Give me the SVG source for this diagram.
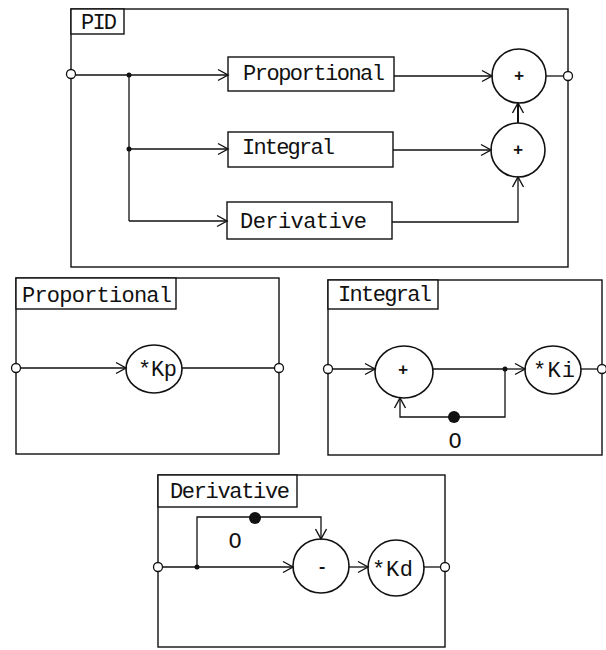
<svg xmlns="http://www.w3.org/2000/svg" width="606" height="650" viewBox="0 0 606 650">
<style>
.box{fill:none;stroke:#111;stroke-width:1.4}
.lbl{fill:#fff;stroke:#111;stroke-width:1.4}
.blk{fill:#fff;stroke:#111;stroke-width:1.4}
.sum{fill:#fff;stroke:#111;stroke-width:1.6}
.ln{fill:none;stroke:#111;stroke-width:1.3}
.arr{fill:none;stroke:#111;stroke-width:1.3;marker-end:url(#ah)}
.term{fill:#fff;stroke:#111;stroke-width:1.3}
.jn{fill:#111}
.dly{fill:#111}
text{font-family:"Liberation Mono","Courier New",monospace;fill:#111;font-size:22px}
.sym{font-size:17px;text-anchor:middle;font-weight:bold}
</style>
<defs>
<marker id="ah" markerUnits="userSpaceOnUse" markerWidth="14" markerHeight="14" refX="11" refY="7" orient="auto" overflow="visible">
<path d="M1,1.5 L11,7 L1,12.5" fill="none" stroke="#111" stroke-width="1.4"/>
</marker>
</defs>

<!-- ===== PID ===== -->
<g id="pid-frame">
<rect class="box" x="71" y="9" width="497" height="258"/>
<rect class="lbl" x="71" y="9" width="53" height="25"/>
<text x="81" y="29" textLength="36" font-size="20">PID</text>
</g>
<g id="pid-proportional">
<rect class="blk" x="228" y="57" width="166" height="34"/>
<text x="243" y="80" textLength="142">Proportional</text>
</g>
<g id="pid-integral">
<rect class="blk" x="228" y="132" width="165" height="35"/>
<text x="242" y="154" textLength="93">Integral</text>
</g>
<g id="pid-derivative">
<rect class="blk" x="227" y="202" width="165" height="37"/>
<text x="240" y="228" textLength="127">Derivative</text>
</g>
<g id="pid-sum1">
<circle class="sum" cx="519" cy="76" r="27"/>
<text class="sym" x="519" y="81">+</text>
</g>
<g id="pid-sum2">
<circle class="sum" cx="518" cy="150" r="27"/>
<text class="sym" x="518" y="155">+</text>
</g>
<g id="pid-connectors">
<polyline class="ln" points="71,75 129,75 129,221"/>
<line class="arr" x1="129" y1="75" x2="228" y2="75"/>
<line class="arr" x1="129" y1="149" x2="228" y2="149"/>
<line class="arr" x1="129" y1="221" x2="227" y2="221"/>
<line class="arr" x1="394" y1="76" x2="492" y2="76"/>
<line class="arr" x1="393" y1="150" x2="491" y2="150"/>
<polyline class="arr" points="392,222 518,222 518,177"/>
<line class="arr" x1="518" y1="123" x2="518" y2="103" style="stroke-width:2"/>
<line class="ln" x1="546" y1="76" x2="568" y2="76"/>
<circle class="jn" cx="129" cy="75" r="2.5"/>
<circle class="jn" cx="129" cy="149" r="2.5"/>
<circle class="term" cx="71" cy="74" r="4.5"/>
<circle class="term" cx="568" cy="76" r="4.5"/>
</g>

<!-- ===== Proportional ===== -->
<g id="prop-frame">
<rect class="box" x="16" y="278" width="263" height="176"/>
<rect class="lbl" x="16" y="278" width="160" height="31"/>
<text x="22" y="302" textLength="150">Proportional</text>
</g>
<g id="prop-kp">
<ellipse class="sum" cx="154" cy="369" rx="28" ry="24"/>
<text x="138" y="376" textLength="39">*Kp</text>
</g>
<g id="prop-connectors">
<line class="arr" x1="16" y1="368" x2="126" y2="368"/>
<line class="ln" x1="182" y1="368" x2="279" y2="368"/>
<circle class="term" cx="16" cy="368" r="4.5"/>
<circle class="term" cx="279" cy="368" r="4.5"/>
</g>

<!-- ===== Integral ===== -->
<g id="int-frame">
<rect class="box" x="328" y="280" width="274" height="175"/>
<rect class="lbl" x="328" y="280" width="110" height="29"/>
<text x="338" y="301" textLength="94">Integral</text>
</g>
<g id="int-sum">
<ellipse class="sum" cx="404" cy="372" rx="29" ry="26"/>
<text class="sym" x="403" y="375">+</text>
</g>
<g id="int-ki">
<ellipse class="sum" cx="553" cy="370" rx="28" ry="24"/>
<text x="533" y="377" textLength="42">*Ki</text>
</g>
<g id="int-delay">
<circle class="dly" cx="454" cy="417" r="6"/>
<text x="455" y="448" font-size="13" text-anchor="middle">O</text>
</g>
<g id="int-connectors">
<line class="arr" x1="328" y1="369" x2="375" y2="369"/>
<line class="ln" x1="433" y1="369" x2="505" y2="369"/>
<line class="arr" x1="505" y1="369" x2="525" y2="369"/>
<polyline class="arr" points="505,369 505,417 400,417 400,398"/>
<line class="ln" x1="581" y1="369" x2="602" y2="369"/>
<circle class="jn" cx="505" cy="369" r="2.5"/>
<circle class="term" cx="328" cy="369" r="4.5"/>
<circle class="term" cx="602" cy="369" r="4.5"/>
</g>

<!-- ===== Derivative ===== -->
<g id="der-frame">
<rect class="box" x="158" y="475" width="287" height="172"/>
<rect class="lbl" x="158" y="475" width="139" height="32"/>
<text x="170" y="498" textLength="120">Derivative</text>
</g>
<g id="der-minus">
<ellipse class="sum" cx="321" cy="566" rx="28" ry="27"/>
<text class="sym" x="322" y="572">-</text>
</g>
<g id="der-kd">
<ellipse class="sum" cx="396" cy="568" rx="28" ry="28"/>
<text x="372" y="576" textLength="41">*Kd</text>
</g>
<g id="der-delay">
<circle class="dly" cx="255" cy="518" r="6"/>
<text x="235" y="548" font-size="13" text-anchor="middle">O</text>
</g>
<g id="der-connectors">
<line class="arr" x1="158" y1="567" x2="293" y2="567"/>
<polyline class="arr" points="197,567 197,517 321,517 321,539"/>
<line class="arr" x1="349" y1="567" x2="368" y2="567"/>
<line class="ln" x1="424" y1="567" x2="445" y2="567"/>
<circle class="jn" cx="197" cy="567" r="2.5"/>
<circle class="term" cx="158" cy="567" r="4.5"/>
<circle class="term" cx="445" cy="567" r="4.5"/>
</g>
</svg>
